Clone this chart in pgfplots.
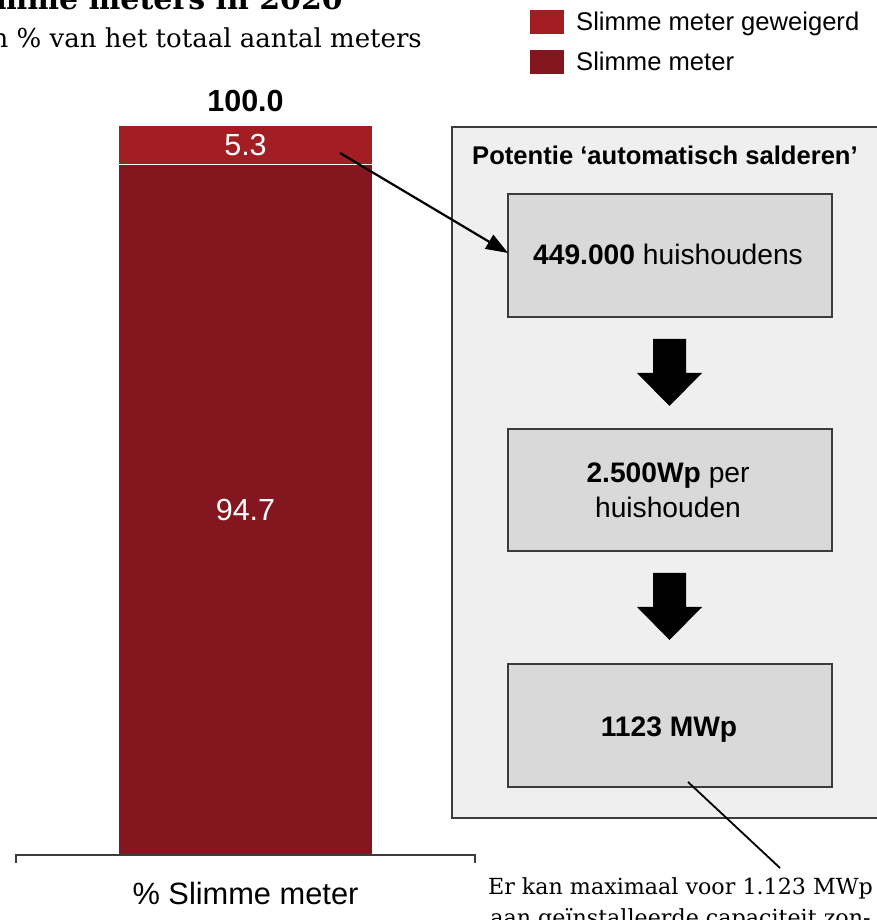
\documentclass[border=0pt]{standalone}
\usepackage{fontspec}
\setmainfont{DejaVu Serif}
\newfontfamily\arial{Liberation Sans}
\usepackage{pgfplots}
\pgfplotsset{compat=1.18}
\usetikzlibrary{arrows.meta}

\definecolor{meter}{HTML}{84161F}
\definecolor{geweigerd}{HTML}{A21E22}
\definecolor{panel}{HTML}{EFEFEF}
\definecolor{stap}{HTML}{D9D9D9}
\definecolor{rand}{HTML}{3C3C3C}

\pgfplotsset{blokje/.style={legend image code/.code={\fill[##1] (0bp,-12.5bp) rectangle (35bp,12.5bp);}}}

% block arrow pointing down, top of shaft at (#1,#2)
\newcommand{\pijl}[2]{%
  \fill (#1-16.5,#2) -- (#1+16.5,#2) -- (#1+16.5,#2-34) -- (#1+32.5,#2-34)
    -- (#1,#2-67) -- (#1-32.5,#2-34) -- (#1-16.5,#2-34) -- cycle;}

\begin{document}
\begin{tikzpicture}[x=1bp,y=1bp]
\useasboundingbox (0,0) rectangle (877,920);
\clip (0,0) rectangle (877,920);

% titles (cut off by the crop)
\node[anchor=base east, inner sep=0, font=\fontsize{30bp}{36bp}\selectfont\bfseries] at (343,910) {Slimme meters in 2020};
\node[anchor=base east, inner sep=0, font=\fontsize{26bp}{31bp}\selectfont] at (422,872) {In \% van het totaal aantal meters};

% right panel
\filldraw[fill=panel, draw=rand, line width=1.3bp] (452,102) rectangle (900,793);
\node[anchor=base, inner sep=0, font=\arial\bfseries\fontsize{25.6bp}{30bp}\selectfont] at (665,755) {Potentie ‘automatisch salderen’};

\filldraw[fill=stap, draw=rand, line width=1.3bp] (508,603) rectangle (832,726);
\filldraw[fill=stap, draw=rand, line width=1.3bp] (508,369) rectangle (832,491);
\filldraw[fill=stap, draw=rand, line width=1.3bp] (508,133) rectangle (832,256);

\node[anchor=base, inner sep=0, font=\arial\fontsize{28.2bp}{35bp}\selectfont] at (668,655) {\textbf{449.000} huishoudens};
\node[anchor=base, inner sep=0, font=\arial\fontsize{28.2bp}{35bp}\selectfont] at (668,437) {\textbf{2.500Wp} per};
\node[anchor=base, inner sep=0, font=\arial\fontsize{28.2bp}{35bp}\selectfont] at (668,402) {huishouden};
\node[anchor=base, inner sep=0, font=\arial\bfseries\fontsize{28.2bp}{35bp}\selectfont] at (669,183) {1123 MWp};

\pijl{669.5}{581}
\pijl{669.5}{347}

% line to note
\draw[line width=1.8bp] (688,138) -- (780,52);

\node[anchor=base, inner sep=0, font=\fontsize{22.2bp}{30bp}\selectfont] at (680.5,25) {Er kan maximaal voor 1.123 MWp};
\node[anchor=base, inner sep=0, font=\fontsize{22.2bp}{30bp}\selectfont] at (680.5,-5) {aan geïnstalleerde capaciteit zon-};

\begin{axis}[
    name=ax,
    at={(16bp,65bp)}, anchor=south west,
    scale only axis,
    width=459bp, height=729bp,
    xmin=-1, xmax=1,
    ymin=0, ymax=100,
    hide axis,
    ybar stacked,
    bar width=254bp,
    blokje,
    reverse legend,
    legend cell align=left,
    legend style={
        at={(1.1176,1.1605)}, anchor=north west,
        draw=none, fill=none, inner sep=0,
        row sep=14bp, column sep=9bp,
        font=\arial\fontsize{25.6bp}{30bp}\selectfont,
    },
]
\addplot[fill=meter, draw=white, line width=1bp, blokje] coordinates {(0,94.7)};
\addplot[fill=geweigerd, draw=white, line width=1bp, blokje] coordinates {(0,5.3)};
\legend{Slimme meter, Slimme meter geweigerd}

\coordinate (midden) at (axis cs:0,47.35);
\coordinate (boven) at (axis cs:0,97.35);
\coordinate (top) at (axis cs:0,100);
\end{axis}

\node[white, font=\arial\fontsize{30.5bp}{36bp}\selectfont] at (midden) {94.7};
\node[white, font=\arial\fontsize{30.5bp}{36bp}\selectfont] at (boven) {5.3};
\node[anchor=base, inner sep=0, yshift=14bp, font=\arial\bfseries\fontsize{30.5bp}{36bp}\selectfont] at (top) {100.0};

% category axis line with end ticks
\draw[rand, line width=1.3bp] ([yshift=-8bp]ax.south west) -- (ax.south west) -- (ax.south east) -- ([yshift=-8bp]ax.south east);
\node[anchor=base, inner sep=0, font=\arial\fontsize{30.8bp}{36bp}\selectfont] at (245.5,15) {\% Slimme meter};

% arrow from refusals to households
\draw[line width=2.2bp, -{Triangle[length=22bp,width=16bp]}] (340,767) -- (508,667);
\end{tikzpicture}
\end{document}
